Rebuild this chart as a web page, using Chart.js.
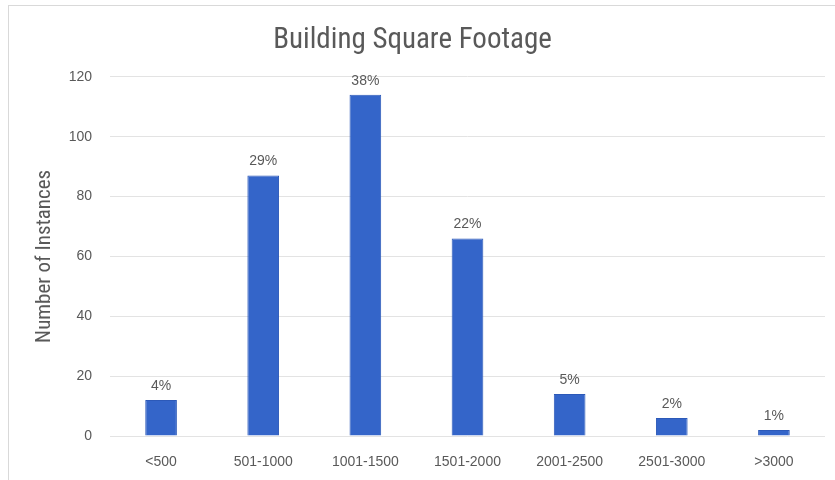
<!DOCTYPE html>
<html>
<head>
<meta charset="utf-8">
<title>Building Square Footage</title>
<script src="https://cdn.jsdelivr.net/npm/chart.js@4.4.1/dist/chart.umd.min.js"></script>
<style>
  html, body { margin: 0; padding: 0; background: #fff; }
  #wrap { position: relative; width: 835px; height: 480px; }
  #frame { position: absolute; left: 8px; top: 5px; right: -2px; bottom: -2px; border: 1px solid #d9d9d9; pointer-events: none; }
</style>
</head>
<body>
<div id="wrap">
  <canvas id="chart" width="835" height="480"></canvas>
  <div id="frame"></div>
</div>
<script>
const categories = ["<500", "501-1000", "1001-1500", "1501-2000", "2001-2500", "2501-3000", ">3000"];
const instances = [12, 87, 114, 66, 14, 6, 2];
const yTicks = [0, 20, 40, 60, 80, 100, 120];

const total = instances.reduce((a, b) => a + b, 0);
const textGray = "#595959";
const narrow = "'Liberation Sans Narrow', 'Roboto Condensed', 'Arial Narrow', sans-serif";

// percentage label over every bar
const barLabels = {
  id: "barLabels",
  afterDatasetsDraw(chart) {
    const ctx = chart.ctx;
    const meta = chart.getDatasetMeta(0);
    ctx.save();
    ctx.font = "14px 'Liberation Sans', Arial, sans-serif";
    ctx.fillStyle = textGray;
    ctx.textAlign = "center";
    ctx.textBaseline = "bottom";
    meta.data.forEach((bar, i) => {
      const pct = Math.round(instances[i] / total * 100) + "%";
      ctx.fillText(pct, bar.x, bar.y - 7);
    });
    ctx.restore();
  }
};

new Chart(document.getElementById("chart"), {
  type: "bar",
  data: {
    labels: categories,
    datasets: [{
      label: "Number of Instances",
      data: instances,
      backgroundColor: "#3465c9",
      borderColor: "#2c59b8",
      borderWidth: 1,
      categoryPercentage: 1,
      barPercentage: 0.31
    }]
  },
  options: {
    responsive: false,
    animation: false,
    layout: { padding: { top: 23, right: 10, left: 0, bottom: 0 } },
    plugins: {
      legend: { display: false },
      tooltip: { enabled: false },
      title: {
        display: true,
        text: "Building Square Footage",
        color: textGray,
        font: { family: narrow, size: 29, weight: "normal" },
        padding: { top: 0, bottom: 19 }
      }
    },
    scales: {
      x: {
        grid: { display: false },
        border: { display: false },
        ticks: { color: textGray, font: { family: "'Liberation Sans', Arial, sans-serif", size: 14 }, padding: 10, maxRotation: 0 },
        afterFit(scale) { scale.height = 44; }
      },
      y: {
        min: 0,
        max: 120,
        afterBuildTicks(scale) { scale.ticks = yTicks.map(v => ({ value: v })); },
        grid: { color: "#e3e3e3", drawTicks: false },
        border: { display: false },
        ticks: { color: textGray, font: { family: "'Liberation Sans', Arial, sans-serif", size: 14 }, padding: 18 },
        title: {
          display: true,
          text: "Number of Instances",
          color: textGray,
          font: { family: narrow, size: 21 },
          padding: { top: 32, bottom: 0 }
        },
        afterFit(scale) { scale.width = 110; }
      }
    }
  },
  plugins: [barLabels]
});
</script>
</body>
</html>
